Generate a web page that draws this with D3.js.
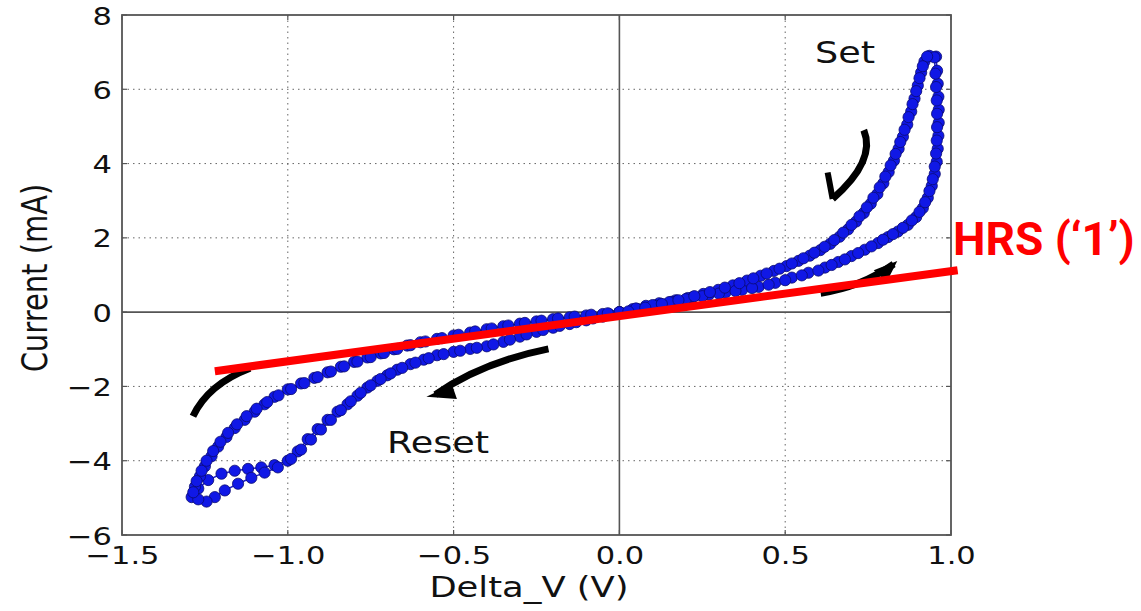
<!DOCTYPE html>
<html>
<head>
<meta charset="utf-8">
<script src="https://cdn.jsdelivr.net/npm/d3@7"></script>
<style>
  body { margin: 0; background: #fff; }
  svg { display: block; }
</style>
</head>
<body>
<div id="chart"></div>
<script>
// Axis ticks
const xTicks = [-1.5, -1.0, -0.5, 0.0, 0.5, 1.0];
const yTicks = [-6, -4, -2, 0, 2, 4, 6, 8];

// Cycle 1 (V, mA)
const c1PosUp = [[0.00,0.00],[0.04,0.08],[0.08,0.17],[0.12,0.24],[0.17,0.32],[0.22,0.40],[0.27,0.47],[0.32,0.53],[0.37,0.60],[0.42,0.68],[0.47,0.79],[0.52,0.93],[0.57,1.06],[0.62,1.20],[0.66,1.35],[0.70,1.51],[0.74,1.68],[0.78,1.86],[0.81,2.02],[0.84,2.17],[0.87,2.35],[0.895,2.56],[0.915,2.80],[0.93,3.08],[0.942,3.40],[0.951,3.72],[0.957,4.05],[0.96,4.40],[0.962,4.75],[0.963,5.10],[0.963,5.45],[0.962,5.80],[0.96,6.15],[0.958,6.50],[0.955,6.88]];
const c1PosDown = [[0.935,6.90],[0.92,6.75],[0.91,6.45],[0.90,6.10],[0.89,5.75],[0.88,5.40],[0.868,5.05],[0.855,4.72],[0.842,4.40],[0.828,4.08],[0.812,3.77],[0.796,3.47],[0.778,3.18],[0.758,2.92],[0.737,2.67],[0.714,2.44],[0.69,2.23],[0.664,2.03],[0.636,1.84],[0.606,1.67],[0.574,1.52],[0.54,1.38],[0.504,1.24],[0.466,1.11],[0.426,0.98],[0.385,0.85],[0.342,0.72],[0.298,0.60],[0.253,0.49],[0.206,0.38],[0.158,0.28],[0.108,0.18],[0.056,0.08],[0.005,-0.02]];
const c1NegDown = [[-0.05,-0.12],[-0.10,-0.22],[-0.15,-0.32],[-0.20,-0.42],[-0.25,-0.53],[-0.30,-0.66],[-0.35,-0.80],[-0.40,-0.92],[-0.45,-0.99],[-0.50,-1.07],[-0.55,-1.16],[-0.59,-1.28],[-0.63,-1.40],[-0.67,-1.55],[-0.70,-1.70],[-0.73,-1.85],[-0.76,-2.03],[-0.79,-2.25],[-0.82,-2.48],[-0.85,-2.68],[-0.88,-2.90],[-0.91,-3.15],[-0.94,-3.42],[-0.97,-3.75],[-1.00,-4.00],[-1.04,-4.12],[-1.08,-4.18],[-1.12,-4.22],[-1.16,-4.27],[-1.20,-4.35],[-1.24,-4.52],[-1.27,-4.75],[-1.29,-4.98]];
const c1NegUp = [[-1.28,-4.70],[-1.265,-4.42],[-1.25,-4.15],[-1.23,-3.88],[-1.21,-3.62],[-1.185,-3.36],[-1.16,-3.12],[-1.13,-2.90],[-1.10,-2.68],[-1.07,-2.48],[-1.04,-2.28],[-1.00,-2.08],[-0.96,-1.92],[-0.92,-1.77],[-0.88,-1.62],[-0.84,-1.47],[-0.80,-1.34],[-0.76,-1.22],[-0.72,-1.11],[-0.68,-1.00],[-0.64,-0.90],[-0.60,-0.81],[-0.55,-0.72],[-0.50,-0.63],[-0.45,-0.55],[-0.40,-0.46],[-0.35,-0.38],[-0.30,-0.31],[-0.25,-0.25],[-0.20,-0.19],[-0.15,-0.14],[-0.10,-0.09],[-0.05,-0.05],[0.00,0.00]];

// Cycle 2 (V, mA)
const c2PosUp = [[0.00,0.00],[0.05,0.10],[0.10,0.19],[0.15,0.27],[0.20,0.35],[0.25,0.43],[0.30,0.50],[0.35,0.57],[0.40,0.65],[0.45,0.74],[0.50,0.86],[0.55,0.99],[0.60,1.12],[0.64,1.27],[0.68,1.42],[0.72,1.59],[0.76,1.77],[0.795,1.95],[0.825,2.10],[0.855,2.27],[0.882,2.47],[0.905,2.70],[0.922,2.96],[0.935,3.26],[0.945,3.58],[0.951,3.92],[0.955,4.27],[0.957,4.62],[0.958,4.98],[0.958,5.34],[0.957,5.70],[0.955,6.06],[0.953,6.42],[0.95,6.86]];
const c2PosDown = [[0.928,6.88],[0.915,6.62],[0.905,6.30],[0.895,5.95],[0.884,5.60],[0.872,5.25],[0.86,4.91],[0.847,4.58],[0.833,4.26],[0.818,3.95],[0.802,3.65],[0.785,3.36],[0.766,3.08],[0.746,2.82],[0.724,2.58],[0.70,2.35],[0.675,2.14],[0.648,1.94],[0.619,1.76],[0.588,1.60],[0.555,1.45],[0.52,1.31],[0.483,1.17],[0.444,1.04],[0.404,0.91],[0.362,0.78],[0.318,0.66],[0.273,0.54],[0.226,0.43],[0.178,0.32],[0.128,0.22],[0.078,0.12],[0.027,0.02]];
const c2NegDown = [[-0.03,-0.06],[-0.08,-0.17],[-0.13,-0.27],[-0.18,-0.37],[-0.23,-0.48],[-0.28,-0.60],[-0.33,-0.74],[-0.38,-0.87],[-0.43,-0.96],[-0.48,-1.04],[-0.53,-1.13],[-0.575,-1.24],[-0.615,-1.36],[-0.655,-1.50],[-0.69,-1.65],[-0.72,-1.80],[-0.75,-1.97],[-0.78,-2.17],[-0.81,-2.40],[-0.84,-2.64],[-0.87,-2.90],[-0.90,-3.16],[-0.93,-3.43],[-0.96,-3.70],[-0.99,-3.95],[-1.03,-4.18],[-1.07,-4.32],[-1.11,-4.46],[-1.15,-4.62],[-1.19,-4.80],[-1.22,-4.98],[-1.245,-5.10],[-1.27,-5.04]];
const c2NegUp = [[-1.285,-4.85],[-1.275,-4.55],[-1.26,-4.27],[-1.245,-4.00],[-1.225,-3.74],[-1.203,-3.49],[-1.18,-3.25],[-1.153,-3.02],[-1.124,-2.80],[-1.094,-2.60],[-1.062,-2.42],[-1.028,-2.24],[-0.99,-2.07],[-0.95,-1.91],[-0.91,-1.75],[-0.87,-1.60],[-0.83,-1.46],[-0.79,-1.33],[-0.75,-1.21],[-0.71,-1.10],[-0.67,-0.99],[-0.63,-0.89],[-0.585,-0.79],[-0.535,-0.70],[-0.485,-0.61],[-0.435,-0.52],[-0.385,-0.44],[-0.335,-0.36],[-0.285,-0.29],[-0.235,-0.23],[-0.185,-0.17],[-0.135,-0.12],[-0.085,-0.07],[-0.035,-0.03]];

// HRS fit line and annotation arrows (data units)
const hrsLine = [[-1.22,-1.59],[1.02,1.13]];
const setArrow = [[0.737,4.90],[0.775,4.08],[0.643,3.05]];
const setBarb = [[0.643,3.05],[0.628,3.76]];
const resetArrow = [[-0.214,-0.99],[-0.415,-1.35],[-0.555,-2.22]];
const resetHead = [[-0.582,-2.28],[-0.49,-2.34],[-0.505,-1.95]];
const rightArrow = [[0.607,0.51],[0.728,0.67],[0.827,1.29]];
const rightHead = [[0.838,1.38],[0.767,1.13],[0.806,0.81]];
const leftArrow = [[-1.286,-2.80],[-1.24,-1.94],[-1.114,-1.51]];

const W = 1141, H = 611;
const margin = {left: 122, right: 190, top: 15, bottom: 76};

const svg = d3.select("#chart").append("svg")
  .attr("width", W).attr("height", H);
svg.append("rect").attr("width", W).attr("height", H).attr("fill", "#fff");

const x = d3.scaleLinear().domain([-1.5, 1.0]).range([margin.left, W - margin.right]);
const y = d3.scaleLinear().domain([-6, 8]).range([H - margin.bottom, margin.top]);

const FONT = "'DejaVu Sans', sans-serif";
const STRETCH = "scale(1.22,1)";

// grid
svg.append("g").selectAll("line")
  .data(xTicks.filter(d => d !== 0 && d > -1.5 && d < 1.0))
  .join("line")
  .attr("x1", d => x(d)).attr("x2", d => x(d))
  .attr("y1", y(8)).attr("y2", y(-6))
  .attr("stroke", "#666").attr("stroke-width", 1).attr("stroke-dasharray", "1.5,4");
svg.append("g").selectAll("line")
  .data(yTicks.filter(d => d !== 0 && d > -6 && d < 8))
  .join("line")
  .attr("x1", x(-1.5)).attr("x2", x(1.0))
  .attr("y1", d => y(d)).attr("y2", d => y(d))
  .attr("stroke", "#666").attr("stroke-width", 1).attr("stroke-dasharray", "1.5,4");

// zero lines
svg.append("line").attr("x1", x(-1.5)).attr("x2", x(1.0)).attr("y1", y(0)).attr("y2", y(0))
  .attr("stroke", "#555").attr("stroke-width", 1.6);
svg.append("line").attr("x1", x(0)).attr("x2", x(0)).attr("y1", y(8)).attr("y2", y(-6))
  .attr("stroke", "#555").attr("stroke-width", 1.6);

// inward ticks
const tk = svg.append("g").attr("stroke", "#555").attr("stroke-width", 1.2);
yTicks.forEach(d => {
  tk.append("line").attr("x1", x(-1.5)).attr("x2", x(-1.5) + 5).attr("y1", y(d)).attr("y2", y(d));
  tk.append("line").attr("x1", x(1.0)).attr("x2", x(1.0) - 5).attr("y1", y(d)).attr("y2", y(d));
});
xTicks.forEach(d => {
  tk.append("line").attr("x1", x(d)).attr("x2", x(d)).attr("y1", y(-6)).attr("y2", y(-6) - 5);
  tk.append("line").attr("x1", x(d)).attr("x2", x(d)).attr("y1", y(8)).attr("y2", y(8) + 5);
});

// frame
svg.append("rect")
  .attr("x", x(-1.5)).attr("y", y(8))
  .attr("width", x(1.0) - x(-1.5)).attr("height", y(-6) - y(8))
  .attr("fill", "none").attr("stroke", "#555").attr("stroke-width", 1.8);

// axes (labels only)
const xAxis = svg.append("g").attr("transform", `translate(0,${y(-6)})`)
  .call(d3.axisBottom(x).tickValues(xTicks).tickFormat(d3.format(".1f")).tickSize(0).tickPadding(11));
const yAxis = svg.append("g").attr("transform", `translate(${x(-1.5)},0)`)
  .call(d3.axisLeft(y).tickValues(yTicks).tickFormat(d3.format("d")).tickSize(0).tickPadding(10));
[xAxis, yAxis].forEach(a => {
  a.select(".domain").remove();
  a.selectAll("text")
    .attr("font-family", FONT).attr("font-size", 25).attr("fill", "#111")
    .attr("transform", STRETCH);
});
yAxis.selectAll("text").attr("x", -10 / 1.22).attr("dy", "0.36em");

// axis titles
svg.append("text")
  .attr("transform", `translate(529,597) ${STRETCH}`)
  .attr("text-anchor", "middle")
  .attr("font-family", FONT).attr("font-size", 29).attr("fill", "#111")
  .text("Delta_V (V)");
svg.append("text")
  .attr("transform", `translate(34,278) ${STRETCH} rotate(-90)`)
  .attr("text-anchor", "middle").attr("dy", "0.36em")
  .attr("font-family", FONT).attr("font-size", 29).attr("fill", "#111")
  .text("Current (mA)");

// data
const line = d3.line().x(d => x(d[0])).y(d => y(d[1]));
const cycles = [
  c1PosUp.concat(c1PosDown, c1NegDown, c1NegUp),
  c2PosUp.concat(c2PosDown, c2NegDown, c2NegUp)
];
cycles.forEach(pts => {
  svg.append("path").datum(pts)
    .attr("d", line)
    .attr("fill", "none").attr("stroke", "#2020c8").attr("stroke-width", 1.5);
});
cycles.forEach(pts => {
  svg.append("g").selectAll("circle").data(pts).join("circle")
    .attr("cx", d => x(d[0])).attr("cy", d => y(d[1]))
    .attr("r", 5.6)
    .attr("fill", "#1018e6").attr("stroke", "#0a0a70").attr("stroke-width", 0.8);
});

// black annotation arrows
const quad = p => `M${x(p[0][0])},${y(p[0][1])}Q${x(p[1][0])},${y(p[1][1])} ${x(p[2][0])},${y(p[2][1])}`;
const poly = p => "M" + p.map(d => `${x(d[0])},${y(d[1])}`).join("L") + "Z";
const arr = svg.append("g");
[setArrow, resetArrow, rightArrow, leftArrow].forEach(p => {
  arr.append("path").attr("d", quad(p))
    .attr("fill", "none").attr("stroke", "#000").attr("stroke-width", 7);
});
arr.append("path").attr("d", line(setBarb))
  .attr("fill", "none").attr("stroke", "#000").attr("stroke-width", 6);
[resetHead, rightHead].forEach(p => {
  arr.append("path").attr("d", poly(p)).attr("fill", "#000");
});

// annotations text
svg.append("text")
  .attr("transform", `translate(815,63) ${STRETCH}`)
  .attr("font-family", FONT).attr("font-size", 30).attr("fill", "#111")
  .text("Set");
svg.append("text")
  .attr("transform", `translate(387,453) ${STRETCH}`)
  .attr("font-family", FONT).attr("font-size", 30).attr("fill", "#111")
  .text("Reset");

// HRS line
svg.append("path").datum(hrsLine)
  .attr("d", line)
  .attr("stroke", "#ff0000").attr("stroke-width", 8).attr("fill", "none");
svg.append("text")
  .attr("x", 953).attr("y", 255)
  .attr("font-family", "Roboto, sans-serif").attr("font-weight", 700)
  .attr("font-size", 46).attr("fill", "#ff0000")
  .text("HRS (\u20181\u2019)");
</script>
</body>
</html>
